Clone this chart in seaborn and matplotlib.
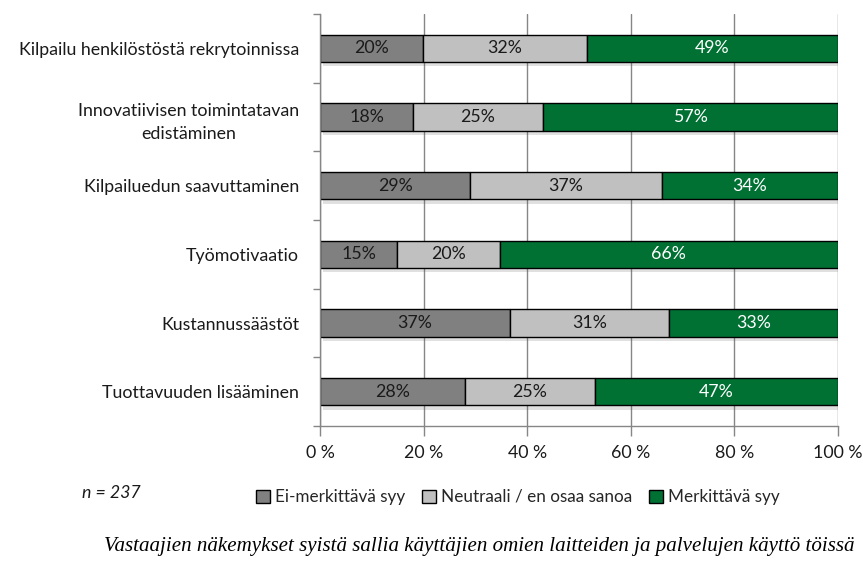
import matplotlib
matplotlib.use("Agg")
import matplotlib.pyplot as plt
import matplotlib.patheffects as pe
from matplotlib.patches import Patch
from matplotlib.ticker import FixedLocator
import numpy as np
import pandas as pd
import seaborn as sns

categories = [
    "Kilpailu henkilöstöstä rekrytoinnissa",
    "Innovatiivisen toimintatavan\nedistäminen",
    "Kilpailuedun saavuttaminen",
    "Työmotivaatio",
    "Kustannussäästöt",
    "Tuottavuuden lisääminen",
]
ei_merkittava = [20, 18, 29, 15, 37, 28]
neutraali = [32, 25, 37, 20, 31, 25]
merkittava = [49, 57, 34, 66, 33, 47]
series_names = ["Ei-merkittävä syy", "Neutraali / en osaa sanoa", "Merkittävä syy"]
series_colors = ["#808080", "#C0C0C0", "#007033"]
text_colors = ["#1a1a1a", "#1a1a1a", "white"]
x_ticks = [0, 20, 40, 60, 80, 100]
x_tick_labels = ["0 %", "20 %", "40 %", "60 %", "80 %", "100 %"]
n_text = "n = 237"
caption = "Vastaajien näkemykset syistä sallia käyttäjien omien laitteiden ja palvelujen käyttö töissä"

sns.set_theme(style="white")
plt.rcParams["font.family"] = ["Lato", "DejaVu Sans"]

FS = 12.8

raw = np.array([ei_merkittava, neutraali, merkittava], dtype=float)
totals = raw.sum(axis=0)
shares = raw / totals * 100

fig = plt.figure(figsize=(8.63, 5.67), dpi=100)
ax = fig.add_axes([320 / 863, 1 - 426 / 567, 518 / 863, 412 / 567])

left = np.zeros(len(categories))
shadow = [pe.SimplePatchShadow(offset=(2, -3), alpha=0.18, shadow_rgbFace="#555555"), pe.Normal()]
for i, name in enumerate(series_names):
    df = pd.DataFrame({"cat": categories, "val": shares[i]})
    sns.barplot(data=df, x="val", y="cat", orient="h", left=left, color=series_colors[i],
                edgecolor="black", linewidth=1.0, width=0.4, saturation=1, ax=ax)
    for j, cat in enumerate(categories):
        ax.text(left[j] + shares[i][j] / 2, j, f"{int(raw[i][j])}%", ha="center", va="center",
                fontsize=FS, color=text_colors[i])
    left = left + shares[i]

for p in ax.patches:
    p.set_path_effects(shadow)

ax.set_xlim(0, 100)
ax.set_ylim(len(categories) - 0.5, -0.5)
ax.set_xlabel("")
ax.set_ylabel("")
ax.set_xticks(x_ticks)
ax.set_xticklabels(x_tick_labels, fontsize=FS, color="#1a1a1a")
ax.tick_params(axis="x", length=7, color="#868686", width=1, pad=7, direction="out", bottom=True)
ax.tick_params(axis="y", which="major", length=0, pad=15)
ax.yaxis.set_minor_locator(FixedLocator(np.arange(-0.5, len(categories), 1.0)))
ax.tick_params(axis="y", which="minor", length=5, color="#868686", width=1, left=True)
for lab in ax.get_yticklabels():
    lab.set_fontsize(FS)
    lab.set_color("#1a1a1a")
    lab.set_multialignment("center")
    lab.set_linespacing(1.55)

ax.grid(axis="x", color="#868686", linewidth=1)
ax.set_axisbelow(True)
for s in ["top", "right"]:
    ax.spines[s].set_visible(False)
for s in ["left", "bottom"]:
    ax.spines[s].set_color("#868686")
    ax.spines[s].set_linewidth(1)

handles = [Patch(facecolor=c, edgecolor="black", linewidth=1) for c in series_colors]
fig.legend(handles, series_names, loc="center", bbox_to_anchor=(518 / 863, 1 - 497 / 567),
           ncol=3, frameon=False, fontsize=12.3, handlelength=0.8, handleheight=0.8,
           handletextpad=0.3, columnspacing=1.0)

fig.text(82 / 863, 1 - 493 / 567, n_text, ha="left", va="center", fontsize=FS, style="italic",
         color="#1a1a1a")
fig.text(479 / 863, 1 - 547 / 567, caption, ha="center", va="center", fontsize=15.1,
         style="italic", family=["Liberation Serif", "DejaVu Serif"], color="black")

fig.savefig("out.png", dpi=100)
